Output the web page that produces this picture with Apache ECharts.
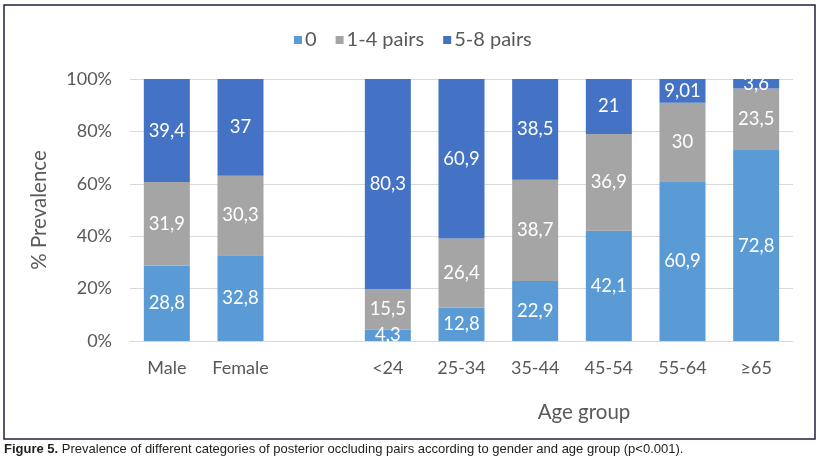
<!DOCTYPE html>
<html><head><meta charset="utf-8">
<script src="https://cdn.jsdelivr.net/npm/echarts@6/dist/echarts.min.js"></script>
<style>html,body{margin:0;padding:0;background:#fff}#c{width:819px;height:471px}</style>
</head><body><div id="c"></div>
<script>
const categories = ['Male', 'Female', '', '<24', '25-34', '35-44', '45-54', '55-64', '≥65'];
const seriesNames = ['0', '1-4 pairs', '5-8 pairs'];
const zeroPairs = [28.8, 32.8, null, 4.3, 12.8, 22.9, 42.1, 60.9, 72.8];
const midPairs = [31.9, 30.3, null, 15.5, 26.4, 38.7, 36.9, 30, 23.5];
const highPairs = [39.4, 37, null, 80.3, 60.9, 38.5, 21, 9.01, 3.6];
const yTicks = [0, 20, 40, 60, 80, 100];
const colors = ['#5B9BD5', '#A5A5A5', '#4472C4'];
const FONT = 'Lato, "Open Sans", sans-serif';
const CAPFONT = '"Liberation Sans Narrow", "Liberation Sans", Arial, sans-serif';

const raw = [zeroPairs, midPairs, highPairs];
const totals = categories.map((c, i) => raw.reduce((s, a) => s + (a[i] || 0), 0));
const series = raw.map((arr, k) => ({
  name: seriesNames[k],
  type: 'bar',
  stack: 'all',
  barWidth: 46,
  itemStyle: { color: colors[k] },
  data: arr.map((v, i) => v == null ? null : { value: v / totals[i] * 100, raw: v }),
  label: {
    show: true, position: 'inside', color: '#fff', fontSize: 18.5, fontFamily: FONT,
    formatter: p => p.data ? String(p.data.raw).replace('.', ',') : ''
  }
}));

const chart = echarts.init(document.getElementById('c'), null, { renderer: 'canvas' });
chart.setOption({
  animation: false,
  textStyle: { fontFamily: FONT },
  legend: {
    top: 25, left: 289, itemWidth: 8, itemHeight: 8, itemGap: 19,
    icon: 'rect',
    textStyle: { color: '#595959', fontSize: 20, fontFamily: FONT, padding: [0, 0, 0, -2] },
    data: seriesNames
  },
  grid: { left: 130, right: 26, top: 79, bottom: 130 },
  xAxis: {
    type: 'category', data: categories,
    axisLine: { show: true, lineStyle: { color: '#d9d9d9' } },
    axisTick: { show: false },
    axisLabel: { color: '#595959', fontSize: 18, margin: 18, fontFamily: FONT }
  },
  yAxis: {
    type: 'value', min: yTicks[0], max: yTicks[yTicks.length - 1], interval: 20,
    name: '% Prevalence', nameLocation: 'middle', nameGap: 80, nameRotate: 90,
    nameTextStyle: { color: '#595959', fontSize: 20.5, fontFamily: FONT },
    axisLine: { show: false }, axisTick: { show: false },
    axisLabel: { color: '#595959', fontSize: 18, margin: 18, formatter: v => v + '%', fontFamily: FONT },
    splitLine: { lineStyle: { color: '#d9d9d9' } }
  },
  series: series,
  graphic: [
    { type: 'rect', shape: { x: 4, y: 5, width: 811, height: 434 },
      style: { fill: 'none', stroke: '#1f1f3f', lineWidth: 1.5 }, silent: true },
    { type: 'text', x: 584, y: 412, style: { text: 'Age group', fill: '#595959', fontSize: 20.5, fontFamily: FONT, align: 'center', verticalAlign: 'middle' } },
    { type: 'text', x: 4, y: 449, style: {
        text: '{b|Figure 5.} Prevalence of different categories of posterior occluding pairs according to gender and age group (p<0.001).',
        fill: '#222', fontSize: 13, fontFamily: CAPFONT, verticalAlign: 'middle',
        rich: { b: { fontWeight: 'bold', fontSize: 13, fontFamily: CAPFONT, fill: '#222' } }
    } }
  ]
});
</script></body></html>
